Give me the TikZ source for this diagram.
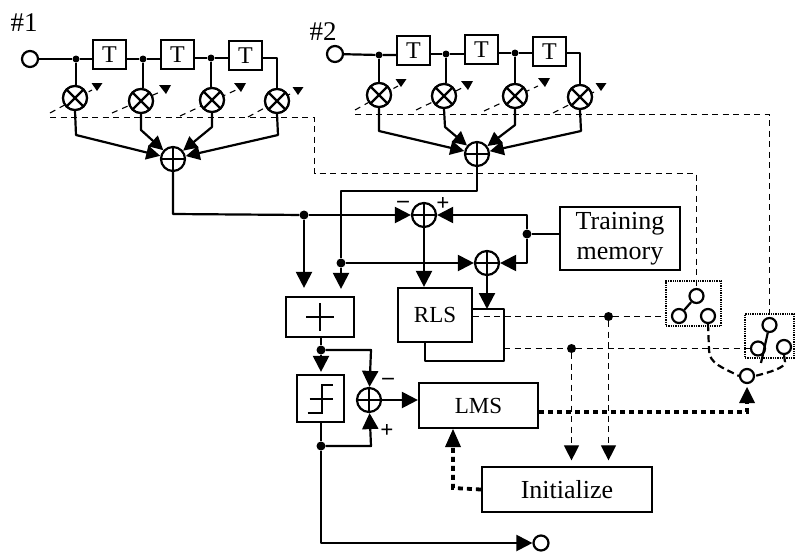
\documentclass[tikz,border=0pt]{standalone}
\usepackage{fontspec}
\setmainfont{Liberation Serif}
\usetikzlibrary{positioning,arrows.meta,calc}
\tikzset{
  sig/.style={line width=2.2pt,line join=round},
  arr/.style={sig,-{Triangle[length=16pt,width=16pt]}},
  ctrl/.style={line width=1.1pt,dash pattern=on 6pt off 4.5pt},
  ctrlarr/.style={ctrl,-{Triangle[length=15pt,width=15pt]}},
  thickdot/.style={line width=3.8pt,dash pattern=on 5pt off 4pt},
  swdash/.style={line width=2.2pt,dash pattern=on 7pt off 4pt},
  jdot/.style={circle,fill=black,inner sep=0pt,minimum size=9pt},
  blockbox/.style={draw,line width=2.2pt,fill=white,inner sep=0pt},
  delaybox/.style={blockbox,minimum width=33pt,minimum height=29pt,font=\fontsize{24}{26}\selectfont},
  port/.style={circle,draw,line width=2.2pt,fill=white,inner sep=0pt,minimum size=16pt},
  mixer/.style={circle,draw,line width=2.2pt,fill=white,inner sep=0pt,minimum size=24pt,
    path picture={\draw[line width=2.2pt] (path picture bounding box.north west) -- (path picture bounding box.south east)
      (path picture bounding box.north east) -- (path picture bounding box.south west);}},
  adder/.style={circle,draw,line width=2.2pt,fill=white,inner sep=0pt,minimum size=24pt,
    path picture={\draw[line width=1.8pt] (path picture bounding box.north) -- (path picture bounding box.south)
      (path picture bounding box.west) -- (path picture bounding box.east);}},
  swbox/.style={draw,line width=1.3pt,densely dotted,inner sep=0pt},
  swport/.style={circle,draw,line width=2.2pt,inner sep=0pt,minimum size=14pt},
  signlabel/.style={font=\bfseries\fontsize{23}{25}\selectfont,inner sep=0pt},
}
\begin{document}
\begin{tikzpicture}[x=1pt,y=-1pt,font=\fontsize{25}{27}\selectfont]
  \useasboundingbox (0,0) rectangle (795,554);
  \node[font=\fontsize{27}{29}\selectfont] (lone) at (24,23) {\#1};
  \node[font=\fontsize{27}{29}\selectfont] (ltwo) at (323,32) {\#2};
  % delay lines
  \foreach \n/\x/\y in {ta/109.5/54.5,tb/177.5/54.5,tc/245.5/55.5,td/413.5/50.5,te/481.5/49.5,tf/549.5/51.5} {
    \node[delaybox] (\n) at (\x,\y) {T};
  }
  \foreach \n/\x/\y in {ina/30/59,inb/335/54} {
    \node[port] (\n) at (\x,\y) {};
  }
  \foreach \n/\x/\y in {ja/76/59,jb/143/59,jc/211/58,jd/379/55,je/446/54,jf/515/53} {
    \node[jdot,minimum size=7pt] (\n) at (\x,\y) {};
  }
  % weights
  \foreach \n/\x/\y in {ma/75/98,mb/141/101,mc/212/100,md/277/101,me/379/95,mf/444/96,mg/515/96,mh/580/97} {
    \node[mixer] (\n) at (\x,\y) {};
  }
  \node[adder] (suma) at (173,159) {};
  \node[adder] (sumb) at (477,154) {};
  \draw[sig] (ina) -- (ja) -- (ta.west |- ja);
  \draw[sig] (ta.east |- jb) -- (jb) -- (tb.west |- jb);
  \draw[sig] (tb.east |- jc) -- (jc) -- (tc.west |- jc);
  \draw[sig] (tc.east |- jc) -| (md);
  \draw[sig] (inb) -- (jd) -- (td.west |- jd);
  \draw[sig] (td.east |- je) -- (je) -- (te.west |- je);
  \draw[sig] (te.east |- jf) -- (jf) -- (tf.west |- jf);
  \draw[sig] (tf.east |- jf) -| (mh);
  \foreach \a/\b in {ja/ma,jb/mb,jc/mc,jd/me,je/mf,jf/mg} {
    \draw[sig] (\a) -- (\a |- \b.north);
  }
  % tap outputs
  \foreach \a/\x/\y/\s in {ma/76/135/suma,mb/141/130/suma,mc/212/127/suma,md/278/135/suma,
      me/379/131/sumb,mf/445/127/sumb,mg/515/125/sumb,mh/581/131/sumb} {
    \draw[sig,-{Triangle[length=14pt,width=14pt]}] (\a.south) -- (\x,\y) -- (\s);
  }
  % weight control
  \coordinate (busa) at (50,117.5);
  \coordinate (busb) at (355,114.5);
  \coordinate (cornerb) at (769.5,114.5);
  \foreach \x/\y/\u/\v in {50/113/92/90,112/113/160/92,180/116/236/90,248/117/290/94,355/110/398/86,416/110/462/88,484/111/538/86,553/113/594/92} {
    \draw[ctrl,dash pattern=on 6pt off 5pt] (\x,\y) -- (\u,\v);
  }
  \foreach \x/\y in {97/91,298/95,401/87,601/91} {
    \fill (\x-5.5,\y-8) -- (\x+5.5,\y-8) -- (\x,\y) -- cycle;
  }
  \foreach \x/\y in {165/85,240/83,467/81,544/78} {
    \fill (\x-6,\y) -- (\x+6,\y) -- (\x+1,\y+9) -- cycle;
  }
  \foreach \n in {ma,mb,mc,md,me,mf,mg,mh} {
    \node[mixer] at (\n) {};
  }
  % processing blocks
  \node[blockbox,align=center,minimum width=120pt,minimum height=63pt,font=\fontsize{26}{30}\selectfont] (mem) at (620,238.5) {Training\\memory};
  \node[blockbox,minimum width=68pt,minimum height=40pt] (hlim) at (320,317) {};
  \draw[line width=2pt] ($(hlim)+(-14,0)$) -- ($(hlim)+(14,0)$) ($(hlim)+(0,-14)$) -- ($(hlim)+(0,14)$);
  \node[blockbox,minimum width=74pt,minimum height=54pt,font=\fontsize{23}{25}\selectfont] (rls) at (435,315) {RLS};
  \node[blockbox,minimum width=47pt,minimum height=47pt] (slicer) at (320.5,398.5) {};
  \draw[line width=2pt] ($(slicer)+(-13,14)$) -- ($(slicer)+(1,14)$) -- ($(slicer)+(1,-14)$) -- ($(slicer)+(12,-14)$)
    ($(slicer)+(-11,0)$) -- ($(slicer)+(12,0)$);
  \node[blockbox,minimum width=119pt,minimum height=45pt,font=\fontsize{23}{25}\selectfont] (lms) at (478.5,405.5) {LMS};
  \node[blockbox,minimum width=170pt,minimum height=45pt,font=\fontsize{26}{28}\selectfont] (init) at (567,489.5) {Initialize};
  \node[adder] (sumc) at (424,215) {};
  \node[adder] (sumd) at (487,263) {};
  \node[adder] (sume) at (369,400) {};
  \node[port,minimum size=15pt] (out) at (541,543) {};
  % switches
  \node[swbox,minimum width=55pt,minimum height=45pt] (swa) at (693.5,303.5) {};
  \node[swbox,minimum width=49pt,minimum height=44pt] (swb) at (769.5,336) {};
  \node[swport] (sa) at (696.5,296) {};
  \node[swport] (sb) at (679,316) {};
  \node[swport] (sc) at (708,316) {};
  \node[swport] (sd) at (769.5,325) {};
  \node[swport] (se) at (758,348.5) {};
  \node[swport] (sf) at (784,347) {};
  \node[swport] (sel) at (747,376) {};
  \draw[sig] (sa) -- (sb);
  \draw[sig] (sd) -- (761,363);
  % dashed control lines
  \coordinate (cornera) at (314.5,117.5);
  \coordinate (cornerc) at (314.5,173.5);
  \coordinate (cornerd) at (696.5,173.5);
  \draw[ctrl] (busa) -- (cornera) -- (cornerc) -- (cornerd) -- (sa.north);
  \draw[ctrl] (busb) -- (cornerb) -- (sd.north);
  \node[jdot] (jrlsa) at (608.5,316.5) {};
  \node[jdot] (jrlsb) at (571.5,348.5) {};
  \coordinate (rlsa) at (rls.east |- jrlsa);
  \coordinate (rlsc) at (504,348.5);
  \draw[ctrl] (rlsa) -- (jrlsa) -- (swa.west |- jrlsa);
  \draw[ctrl] (rlsc) -- (jrlsb) -- (se.west);
  \draw[ctrlarr,shorten >=5.5pt] (jrlsa) -- (jrlsa |- init.north);
  \draw[ctrlarr,shorten >=5.5pt] (jrlsb) -- (jrlsb |- init.north);
  % signal paths
  \node[jdot] (jsuma) at (304,215) {};
  \node[jdot] (jsumb) at (341,263) {};
  \node[jdot] (jmem) at (527,234) {};
  \node[jdot] (jhlim) at (321,350) {};
  \node[jdot] (jslicer) at (321,446) {};
  \coordinate (tapa) at (173,214);
  \coordinate (tapb) at (477,191);
  \coordinate (tapc) at (341,191);
  \draw[sig] (suma) -- (tapa) -- (jsuma);
  \draw[arr] (jsuma) -- (sumc);
  \draw[arr,shorten >=8pt] (jsuma) -- (jsuma |- hlim.north);
  \draw[sig] (sumb) -- (tapb) -- (tapc) -- (jsumb);
  \draw[arr,shorten >=7pt] (jsumb) -- (jsumb |- hlim.north);
  \draw[arr] (jsumb) -- (sumd);
  \draw[sig] (mem.west |- jmem) -- (jmem);
  \coordinate (mema) at (527,215);
  \coordinate (memb) at (527,263);
  \draw[arr] (jmem) -- (mema) -- (sumc);
  \draw[arr] (jmem) -- (memb) -- (sumd);
  \draw[arr] (sumc) -- (sumc |- rls.north);
  % second RLS output
  \coordinate (rlsd) at (504,309);
  \coordinate (rlse) at (504,361);
  \coordinate (rlsf) at (425,361);
  \draw[sig] (rls.east |- rlsd) -- (rlsd) -- (rlse) -- (rlsf) -- (rlsf |- rls.south);
  \draw[arr] (sumd) -- (sumd |- rlsd);
  % decision path
  \draw[sig] (hlim.south -| jhlim) -- (jhlim);
  \draw[arr,shorten >=2pt] (jhlim) -- (jhlim |- slicer.north);
  \coordinate (erra) at (371,350);
  \coordinate (errb) at (371,446);
  \draw[arr] (jhlim) -- (erra) -- (sume);
  \draw[sig] (slicer.south -| jslicer) -- (jslicer);
  \draw[arr] (jslicer) -- (errb) -- (sume);
  \draw[arr] (sume) -- (lms.west |- sume);
  \coordinate (outa) at (321,543);
  \draw[arr] (jslicer) -- (outa) -- (out);
  \node[signlabel] (plusa) at (443,204) {+};
  \node[signlabel] (plusb) at (387,431) {+};
  \node[signlabel] (minusa) at (403,204) {--};
  \node[signlabel] (minusb) at (388,381) {--};
  % adaptation paths
  \coordinate (ada) at (747,412);
  \draw[thickdot] (lms.east |- ada) -- (ada) -- (747,402);
  \fill (739,403) -- (755,403) -- (747,387) -- cycle;
  \coordinate (inia) at (453,488);
  \draw[thickdot] (init.west) -- (inia) -- (453,446);
  \fill (445,447) -- (461,447) -- (453,429) -- cycle;
  \draw[swdash] (sc.south) -- (709,350) .. controls (709,364) and (724,368) .. (sel.west);
  \draw[swdash] (sf.south) -- (785,362) .. controls (785,368) and (770,372) .. (sel.east);
\end{tikzpicture}
\end{document}
